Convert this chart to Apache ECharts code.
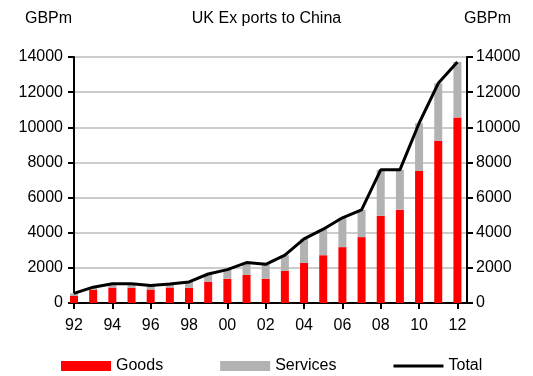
<!DOCTYPE html>
<html>
<head>
<meta charset="utf-8">
<script src="https://cdn.jsdelivr.net/npm/echarts@6/dist/echarts.min.js"></script>
<style>
  html, body { margin: 0; padding: 0; background: #fff; }
  #chart { width: 533px; height: 376px; }
</style>
</head>
<body>
<div id="chart"></div>
<script>
// UK exports to China, GBP millions
var years = ['92', '93', '94', '95', '96', '97', '98', '99', '00', '01', '02',
             '03', '04', '05', '06', '07', '08', '09', '10', '11', '12'];
var goods = [400, 760, 880, 870, 770, 880, 860, 1200, 1380, 1600, 1380,
             1830, 2280, 2720, 3180, 3750, 4970, 5310, 7520, 9230, 10560];
var services = [150, 140, 220, 230, 230, 200, 340, 450, 520, 700, 820,
                890, 1370, 1480, 1670, 1550, 2610, 2270, 2710, 3270, 3160];
var total = [550, 900, 1100, 1100, 1000, 1080, 1200, 1650, 1900, 2300, 2200,
             2720, 3650, 4200, 4850, 5300, 7580, 7580, 10230, 12500, 13720];
var yTicks = [0, 2000, 4000, 6000, 8000, 10000, 12000, 14000];

// The year axis runs on half-year slots so it ends half a year past the last bar.
var slots = [];
years.forEach(function (y) { slots.push(y, ''); });
function onSlots(vals) {
  var out = [];
  vals.forEach(function (v) { out.push(v, '-'); });
  return out;
}
function everyTwoYears(index) { return index % 4 === 0; }

var FONT = 'Liberation Sans, Arial, sans-serif';
var chart = echarts.init(document.getElementById('chart'));

var yAxisBase = {
  type: 'value',
  min: yTicks[0],
  max: yTicks[yTicks.length - 1],
  interval: yTicks[1] - yTicks[0],
  axisLine: { show: true, lineStyle: { color: '#000', width: 2 } },
  axisTick: { show: true, length: 6, lineStyle: { color: '#000', width: 2 } },
  axisLabel: { color: '#000', fontSize: 16, fontFamily: FONT,
               formatter: function (v) { return String(v); } }
};

chart.setOption({
  animation: false,
  backgroundColor: '#fff',
  title: [
    { text: 'UK Ex ports to China', left: 'center', top: 6,
      textStyle: { fontSize: 16, fontWeight: 'normal', color: '#000', fontFamily: FONT } },
    { text: 'GBPm', left: 20, top: 6,
      textStyle: { fontSize: 16, fontWeight: 'normal', color: '#000', fontFamily: FONT } },
    { text: 'GBPm', left: 459, top: 6,
      textStyle: { fontSize: 16, fontWeight: 'normal', color: '#000', fontFamily: FONT } }
  ],
  grid: { left: 74, right: 66, top: 57, bottom: 73, containLabel: false },
  legend: {
    left: 61, top: 358, padding: 0,
    itemWidth: 50, itemHeight: 10, itemGap: 57,
    textStyle: { fontSize: 16, color: '#000', fontFamily: FONT },
    data: [
      { name: 'Goods', icon: 'rect' },
      { name: 'Services', icon: 'rect' },
      { name: 'Total', icon: 'path://M0,0 L50,0 L50,3 L0,3 Z', itemStyle: { color: '#000' } }
    ]
  },
  xAxis: {
    type: 'category',
    data: slots,
    boundaryGap: false,
    axisLine: { show: true, onZero: false, lineStyle: { color: '#000', width: 2 } },
    axisTick: { show: true, length: 6, interval: everyTwoYears,
                lineStyle: { color: '#000', width: 2 } },
    splitLine: { show: false },
    axisLabel: { color: '#000', fontSize: 16, fontFamily: FONT, margin: 15,
                 interval: everyTwoYears }
  },
  yAxis: [
    Object.assign({}, yAxisBase, {
      position: 'left',
      splitLine: { show: true, lineStyle: { color: '#cccccc', width: 2 } },
      axisLabel: Object.assign({}, yAxisBase.axisLabel, { margin: 11 })
    }),
    Object.assign({}, yAxisBase, {
      position: 'right',
      splitLine: { show: false },
      axisLabel: Object.assign({}, yAxisBase.axisLabel, { margin: 9 })
    })
  ],
  series: [
    {
      name: 'Goods', type: 'bar', stack: 'exports', barWidth: 8, clip: true,
      itemStyle: { color: '#ff0000' },
      data: onSlots(goods)
    },
    {
      name: 'Services', type: 'bar', stack: 'exports', barWidth: 8, clip: true,
      itemStyle: { color: '#b2b2b2' },
      data: onSlots(services)
    },
    {
      name: 'Total', type: 'line', symbol: 'none', showSymbol: false,
      connectNulls: true,
      lineStyle: { color: '#000', width: 3 },
      itemStyle: { color: '#000' },
      data: onSlots(total),
      z: 5
    }
  ]
});
</script>
</body>
</html>
